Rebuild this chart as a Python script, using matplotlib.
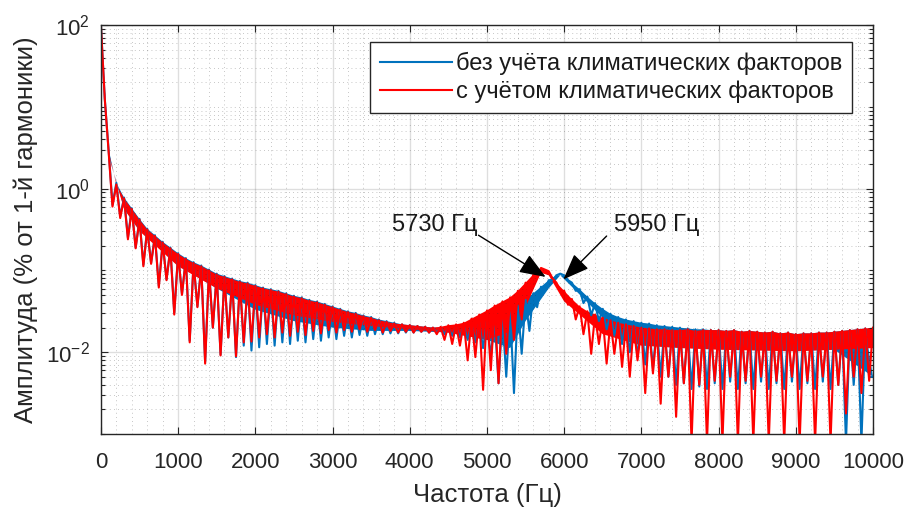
import numpy as np
from matplotlib import pyplot as plt
import matplotlib.ticker as mticker

plt.rcParams['font.family'] = ['Liberation Sans', 'DejaVu Sans']
plt.rcParams['mathtext.default'] = 'regular'
plt.rcParams['axes.unicode_minus'] = False

# peak values (log10 of %) at 0, 100, ..., 10000 Hz
freq_peaks = np.arange(0, 10001, 100)
# dip values (log10 of %) at 50, 150, ..., 9950 Hz
freq_dips = np.arange(50, 10000, 100)

blue_peaks = [
    2.00, 0.47, 0.07, -0.11, -0.24, -0.37, -0.49, -0.57, -0.65, -0.72,
    -0.79, -0.85, -0.90, -0.94, -0.99, -1.04, -1.07, -1.10, -1.13, -1.15,
    -1.18, -1.21, -1.23, -1.25, -1.28, -1.31, -1.33, -1.36, -1.38, -1.41,
    -1.44, -1.47, -1.50, -1.52, -1.55, -1.57, -1.60, -1.62, -1.64, -1.66,
    -1.67, -1.68, -1.69, -1.70, -1.70, -1.70, -1.69, -1.68, -1.66, -1.64,
    -1.62, -1.59, -1.55, -1.49, -1.43, -1.36, -1.28, -1.20, -1.12, -1.06,
    -1.06, -1.15, -1.23, -1.32, -1.40, -1.47, -1.53, -1.57, -1.60, -1.62,
    -1.64, -1.65, -1.67, -1.68, -1.69, -1.70, -1.71, -1.72, -1.72, -1.73,
    -1.73, -1.74, -1.73, -1.75, -1.74, -1.75, -1.76, -1.75, -1.77, -1.76,
    -1.78, -1.77, -1.77, -1.76, -1.76, -1.75, -1.74, -1.73, -1.72, -1.71,
    -2.30]
blue_dips = [
    1.10, -0.20, -0.34, -0.60, -0.72, -0.93, -0.91, -1.19, -1.11, -1.52,
    -1.29, -1.86, -1.44, -2.12, -1.70, -2.03, -1.82, -2.06, -1.92, -1.98,
    -1.94, -1.90, -1.92, -1.88, -1.90, -1.86, -1.88, -1.84, -1.86, -1.82,
    -1.84, -1.80, -1.82, -1.79, -1.80, -1.78, -1.78, -1.77, -1.77, -1.76,
    -1.76, -1.75, -1.76, -1.76, -1.78, -1.80, -1.82, -1.85, -1.88, -1.95,
    -2.05, -2.38, -2.30, -2.50, -2.02, -1.74, -1.45, -1.25, -1.12, -1.04,
    -1.12, -1.25, -1.40, -1.55, -1.62, -1.72, -1.80, -1.90, -2.00, -2.05,
    -2.15, -2.20, -2.30, -2.30, -2.40, -2.38, -2.45, -2.42, -2.45, -2.38,
    -2.45, -2.36, -2.45, -2.38, -2.45, -2.36, -2.45, -2.38, -2.45, -2.36,
    -2.45, -2.38, -2.45, -2.36, -2.45, -2.40, -3.10, -2.40, -3.10, -2.30]
# lower edge of the dense part of the blue band
blue_floor_f = [0, 100, 300, 500, 1000, 1500, 2000, 2500, 3000, 3500, 4000, 4500, 5000,
                5300, 5500, 5800, 5950, 6100, 6500, 7000, 7500, 8000, 8500, 9000, 9500, 10000]
blue_floor = [2.00, 0.42, -0.24, -0.50, -0.94, -1.22, -1.48, -1.62, -1.70, -1.74, -1.74,
              -1.76, -1.85, -1.95, -1.62, -1.22, -1.06, -1.20, -1.58, -1.82, -1.92, -1.96,
              -1.97, -1.98, -1.97, -2.30]

red_peaks = [
    2.00, 0.45, 0.05, -0.12, -0.25, -0.38, -0.50, -0.58, -0.66, -0.73,
    -0.80, -0.86, -0.91, -0.95, -1.00, -1.05, -1.08, -1.11, -1.14, -1.16,
    -1.19, -1.22, -1.24, -1.26, -1.29, -1.32, -1.34, -1.37, -1.39, -1.42,
    -1.45, -1.48, -1.51, -1.53, -1.56, -1.58, -1.61, -1.63, -1.65, -1.66,
    -1.67, -1.68, -1.69, -1.70, -1.69, -1.67, -1.66, -1.64, -1.59, -1.54,
    -1.49, -1.43, -1.38, -1.33, -1.25, -1.15, -1.05, -0.97, -1.01, -1.15,
    -1.25, -1.35, -1.44, -1.50, -1.54, -1.58, -1.61, -1.64, -1.66, -1.68,
    -1.70, -1.71, -1.72, -1.72, -1.73, -1.73, -1.72, -1.74, -1.73, -1.73,
    -1.73, -1.74, -1.73, -1.75, -1.74, -1.75, -1.76, -1.75, -1.77, -1.76,
    -1.78, -1.77, -1.77, -1.76, -1.76, -1.75, -1.74, -1.73, -1.72, -1.71,
    -1.70]
red_dips = [
    1.10, -0.22, -0.36, -0.62, -0.73, -0.95, -0.92, -1.21, -1.12, -1.54,
    -1.30, -1.88, -1.45, -2.14, -1.70, -2.04, -1.82, -2.05, -1.88, -1.87,
    -1.82, -1.78, -1.82, -1.76, -1.80, -1.75, -1.79, -1.74, -1.77, -1.73,
    -1.76, -1.73, -1.75, -1.72, -1.75, -1.73, -1.76, -1.74, -1.76, -1.75,
    -1.76, -1.75, -1.76, -1.78, -1.85, -1.90, -1.92, -2.10, -2.06, -2.46,
    -2.22, -2.38, -2.02, -1.85, -1.60, -1.30, -1.08, -0.99, -1.10, -1.25,
    -1.42, -1.60, -1.78, -2.02, -1.90, -2.14, -2.02, -2.18, -2.30, -2.10,
    -2.50, -2.26, -2.63, -2.30, -2.79, -2.38, -3.10, -2.40, -3.10, -2.35,
    -3.10, -2.30, -3.10, -2.35, -3.10, -2.30, -3.10, -2.35, -3.10, -2.30,
    -3.10, -2.35, -3.10, -2.30, -3.10, -2.40, -2.75, -2.30, -2.50, -2.35]
red_floor_f = [0, 100, 300, 500, 1000, 1500, 2000, 2500, 3000, 3500, 4000, 4500, 5000,
               5300, 5500, 5700, 5800, 6000, 6500, 7000, 7500, 8000, 8500, 9000, 9500, 10000]
red_floor = [2.00, 0.40, -0.25, -0.52, -0.95, -1.22, -1.42, -1.55, -1.63, -1.68, -1.72,
             -1.76, -1.85, -1.75, -1.45, -1.03, -1.06, -1.38, -1.78, -1.92, -1.95, -1.97,
             -1.98, -1.99, -1.97, -1.95]

labels = ['без учёта климатических факторов', 'с учётом климатических факторов']
ann_text = ['5730 Гц', '5950 Гц']


def merge(peaks, dips):
    # put peaks and dips in frequency order
    f = np.concatenate([freq_peaks, freq_dips])
    v = np.concatenate([peaks, dips])
    order = np.argsort(f)
    return f[order], 10.0 ** v[order]


def draw_series(ax, peaks, dips, floor_f, floor, color, label):
    # dense band between peaks and floor, then the spikes on top
    px = np.concatenate([freq_peaks, np.array(floor_f)[::-1]])
    py = 10.0 ** np.concatenate([peaks, np.array(floor)[::-1]])
    ax.fill(px, py, color=color, lw=0)
    f, y = merge(peaks, dips)
    ax.plot(f, y, color=color, lw=1.5, label=label)


def main():
    fig = plt.figure(figsize=(9.09, 5.08), dpi=100)
    ax = fig.add_axes([0.111, 0.1457, 0.8494, 0.8051])

    draw_series(ax, blue_peaks, blue_dips, blue_floor_f, blue_floor, '#0072BD', labels[0])
    draw_series(ax, red_peaks, red_dips, red_floor_f, red_floor, '#FF0000', labels[1])

    ax.set_yscale('log')
    ax.set_xlim(0, 10000)
    ax.set_ylim(1e-3, 1e2)
    ax.xaxis.set_major_locator(mticker.MultipleLocator(1000))
    ax.xaxis.set_minor_locator(mticker.MultipleLocator(200))
    ax.yaxis.set_major_locator(mticker.FixedLocator([1e-2, 1e0, 1e2]))
    ax.yaxis.set_major_formatter(mticker.LogFormatterSciNotation())
    ax.yaxis.set_minor_locator(mticker.LogLocator(base=10, subs=np.arange(1, 10), numticks=20))
    ax.yaxis.set_minor_formatter(mticker.NullFormatter())

    ax.grid(which='major', color='#262626', alpha=0.15, lw=1.0, ls='-')
    ax.grid(which='minor', color='#262626', alpha=0.35, lw=0.6, ls=(0, (1, 4)))
    ax.tick_params(which='both', direction='in', top=True, right=True,
                   labelsize=16, colors='#262626', width=0.8)
    ax.tick_params(which='major', length=5)
    ax.tick_params(axis='x', which='major', pad=13)
    ax.tick_params(axis='y', which='major', pad=8)
    ax.tick_params(axis='y', which='minor', length=3)
    ax.tick_params(axis='x', which='minor', length=0)
    for s in ax.spines.values():
        s.set_color('#262626')
        s.set_linewidth(1.0)

    ax.set_xlabel('Частота (Гц)', fontsize=18.5, color='#262626', labelpad=7)
    ax.set_ylabel('Амплитуда (% от 1-й гармоники)', fontsize=18.5, color='#262626', labelpad=6)

    # arrows to the resonance peaks
    arrow = dict(arrowstyle='-|>,head_length=0.9,head_width=0.35', color='black',
                 lw=1.0, mutation_scale=18, shrinkA=0, shrinkB=0)
    ax.annotate('', xy=(5760, 10 ** -1.08), xytext=(4890, 10 ** -0.57), arrowprops=arrow)
    ax.annotate('', xy=(5990, 10 ** -1.11), xytext=(6550, 10 ** -0.58), arrowprops=arrow)
    ax.text(4880, 10 ** -0.45, ann_text[0], ha='right', va='center', fontsize=17, color='#1a1a1a')
    ax.text(6645, 10 ** -0.45, ann_text[1], ha='left', va='center', fontsize=17, color='#1a1a1a')

    leg = ax.legend(loc='upper right', bbox_to_anchor=(0.973, 0.958), fontsize=17,
                    fancybox=False, framealpha=1, edgecolor='#262626',
                    handlelength=3.05, handletextpad=0.2, borderpad=0.4,
                    labelspacing=0.25, borderaxespad=0)
    leg.get_frame().set_linewidth(1.0)
    for t in leg.get_texts():
        t.set_color('#1a1a1a')

    fig.savefig('out.png', dpi=100)
    plt.close(fig)


if __name__ == '__main__':
    main()
